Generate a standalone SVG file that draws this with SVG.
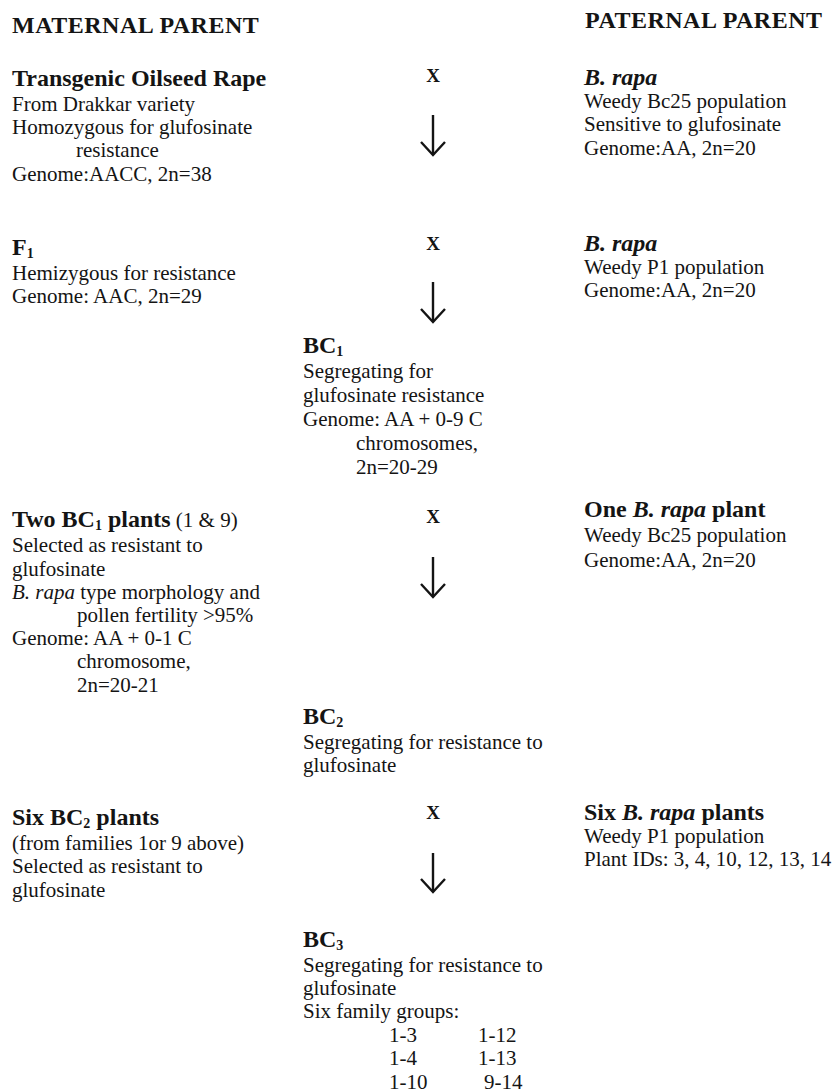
<svg xmlns="http://www.w3.org/2000/svg" width="834" height="1092" viewBox="0 0 834 1092">
<style>
text { font-family: "Liberation Serif", "Times New Roman", serif; fill: #141414; }
.hd { font-size: 24px; font-weight: bold; letter-spacing: 0.5px; }
.t { font-size: 24px; font-weight: bold; }
.b { font-size: 21px; }
.i { font-style: italic; }
.n { font-weight: normal; font-size: 21px; }
.s { font-size: 14px; }
.x { font-size: 19px; font-weight: bold; text-anchor: middle; }
.arr { stroke: #141414; stroke-width: 2.4; fill: none; marker-end: url(#ah); }
</style>
<defs>
<marker id="ah" markerUnits="userSpaceOnUse" viewBox="0 0 16 26" markerWidth="16" markerHeight="26" refX="14" refY="13" orient="auto">
<path d="M1,1 L14,13 L1,25" fill="none" stroke="#141414" stroke-width="2.4"/>
</marker>
</defs>
<rect width="834" height="1092" fill="#ffffff"/>

<g id="maternal-header"><text class="hd" x="12" y="33">MATERNAL PARENT</text></g>
<g id="paternal-header"><text class="hd" x="585" y="28">PATERNAL PARENT</text></g>

<g id="transgenic-oilseed-rape">
<text class="t" x="12" y="86">Transgenic Oilseed Rape</text>
<text class="b" x="12" y="111">From Drakkar variety</text>
<text class="b" x="12" y="134">Homozygous for glufosinate</text>
<text class="b" x="76" y="157">resistance</text>
<text class="b" x="12" y="181">Genome:AACC, 2n=38</text>
</g>

<g id="brapa-bc25">
<text class="t i" x="584" y="85">B. rapa</text>
<text class="b" x="584" y="108">Weedy Bc25 population</text>
<text class="b" x="584" y="131">Sensitive to glufosinate</text>
<text class="b" x="584" y="155">Genome:AA, 2n=20</text>
</g>

<g id="f1">
<text class="t" x="12" y="255">F<tspan class="s" dy="3">1</tspan></text>
<text class="b" x="12" y="280">Hemizygous for resistance</text>
<text class="b" x="12" y="303">Genome: AAC, 2n=29</text>
</g>

<g id="brapa-p1">
<text class="t i" x="584" y="251">B. rapa</text>
<text class="b" x="584" y="274">Weedy P1 population</text>
<text class="b" x="584" y="297">Genome:AA, 2n=20</text>
</g>

<g id="bc1">
<text class="t" x="303" y="353">BC<tspan class="s" dy="3">1</tspan></text>
<text class="b" x="303" y="378">Segregating for</text>
<text class="b" x="303" y="402">glufosinate resistance</text>
<text class="b" x="303" y="426">Genome: AA + 0-9 C</text>
<text class="b" x="356" y="450">chromosomes,</text>
<text class="b" x="356" y="474">2n=20-29</text>
</g>

<g id="two-bc1-plants">
<text class="t" x="12" y="527">Two BC<tspan class="s" dy="3">1</tspan><tspan dy="-3"> plants</tspan><tspan class="n"> (1 &amp; 9)</tspan></text>
<text class="b" x="12" y="552">Selected as resistant to</text>
<text class="b" x="12" y="576">glufosinate</text>
<text class="b" x="12" y="599"><tspan class="i">B. rapa</tspan> type morphology and</text>
<text class="b" x="77" y="622">pollen fertility &gt;95%</text>
<text class="b" x="12" y="645">Genome: AA + 0-1 C</text>
<text class="b" x="77" y="668">chromosome,</text>
<text class="b" x="77" y="692">2n=20-21</text>
</g>

<g id="one-brapa-plant">
<text class="t" x="584" y="517">One <tspan class="i">B. rapa</tspan> plant</text>
<text class="b" x="584" y="542">Weedy Bc25 population</text>
<text class="b" x="584" y="567">Genome:AA, 2n=20</text>
</g>

<g id="bc2">
<text class="t" x="303" y="724">BC<tspan class="s" dy="3">2</tspan></text>
<text class="b" x="303" y="749">Segregating for resistance to</text>
<text class="b" x="303" y="772">glufosinate</text>
</g>

<g id="six-bc2-plants">
<text class="t" x="12" y="825">Six BC<tspan class="s" dy="3">2</tspan><tspan dy="-3"> plants</tspan></text>
<text class="b" x="12" y="850">(from families 1or 9 above)</text>
<text class="b" x="12" y="873">Selected as resistant to</text>
<text class="b" x="12" y="897">glufosinate</text>
</g>

<g id="six-brapa-plants">
<text class="t" x="584" y="820">Six <tspan class="i">B. rapa</tspan> plants</text>
<text class="b" x="584" y="843">Weedy P1 population</text>
<text class="b" x="584" y="866">Plant IDs: 3, 4, 10, 12, 13, 14</text>
</g>

<g id="bc3">
<text class="t" x="303" y="947">BC<tspan class="s" dy="3">3</tspan></text>
<text class="b" x="303" y="972">Segregating for resistance to</text>
<text class="b" x="303" y="995">glufosinate</text>
<text class="b" x="303" y="1018">Six family groups:</text>
<text class="b" x="389" y="1042">1-3</text>
<text class="b" x="478" y="1042">1-12</text>
<text class="b" x="389" y="1065">1-4</text>
<text class="b" x="478" y="1065">1-13</text>
<text class="b" x="389" y="1089">1-10</text>
<text class="b" x="484" y="1089">9-14</text>
</g>

<g id="connectors">
<text class="x" x="433" y="82">X</text>
<path class="arr" d="M433 115 V155"/>
<text class="x" x="433" y="250">X</text>
<path class="arr" d="M433 282 V322"/>
<text class="x" x="433" y="523">X</text>
<path class="arr" d="M433 557 V597"/>
<text class="x" x="433" y="819">X</text>
<path class="arr" d="M433 853 V892"/>
</g>
</svg>
